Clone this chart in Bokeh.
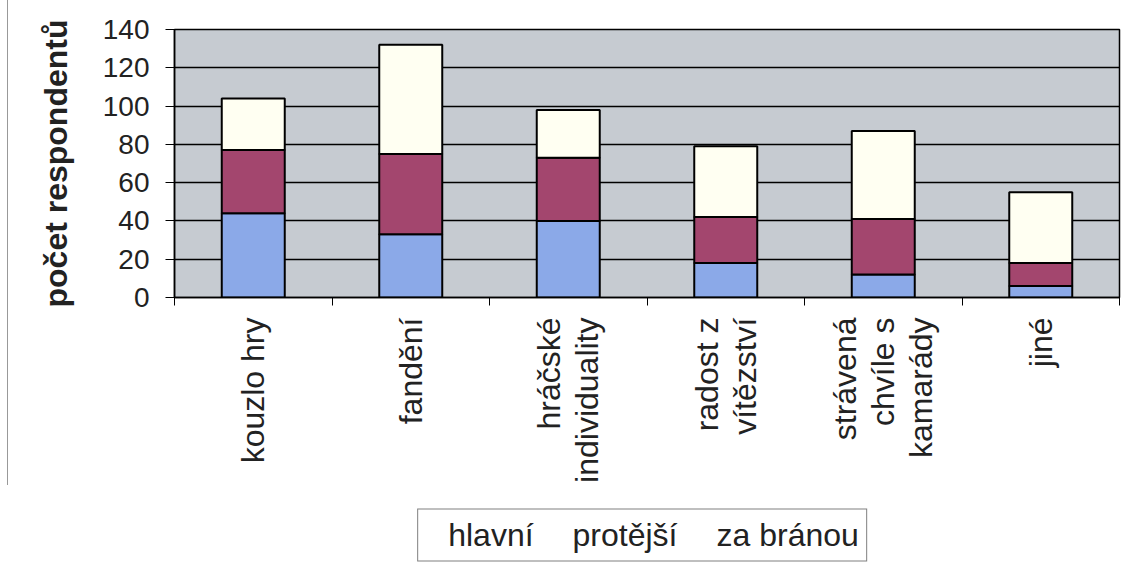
import math
from bokeh.plotting import figure
from bokeh.layouts import column
from bokeh.models import (ColumnDataSource, Range1d, FixedTicker,
                          Legend, LegendItem, LinearAxis)
from bokeh.embed import file_html
from bokeh.resources import INLINE

categories = ["kouzlo hry", "fandění", "hráčské\nindividuality", "radost z\nvítězství",
              "strávená\nchvíle s\nkamarády", "jiné"]
hlavni = [44, 33, 40, 18, 12, 6]
protejsi = [33, 42, 33, 24, 29, 12]
za_branou = [27, 57, 25, 37, 46, 37]
series = ["hlavní", "protější", "za bránou"]
colors = ["#8BA9E8", "#A3466E", "#FFFFF2"]
y_ticks = [0, 20, 40, 60, 80, 100, 120, 140]

FONT = "Liberation Sans"

n = len(categories)
centers = [i + 0.5 for i in range(n)]

# one tick per text line of each category label (lines side by side, rotated)
LINE_PITCH = 0.24
line_ticks = []
line_text = {}
for i, cat in enumerate(categories):
    lines = cat.split("\n")
    k = len(lines)
    for j, line in enumerate(lines):
        pos = round(centers[i] + (j - (k - 1) / 2) * LINE_PITCH, 4)
        line_ticks.append(pos)
        line_text[pos] = line

source = ColumnDataSource(data={"x": centers, "hlavní": hlavni,
                                "protější": protejsi, "za bránou": za_branou})

p = figure(x_range=Range1d(0, n), y_range=Range1d(0, 140),
           frame_width=944, frame_height=268, output_backend="svg", toolbar_location=None,
           x_axis_location=None, y_axis_location="left",
           min_border_left=166, min_border_right=7, min_border_top=29, min_border_bottom=0)

p.vbar_stack(series, x="x", width=0.4, source=source, color=colors,
             line_color="black", line_width=2)

p.background_fill_color = "#C6CBD1"
p.border_fill_color = "white"
p.outline_line_color = "black"
p.outline_line_width = 1.5

p.xgrid.grid_line_color = None
p.ygrid.grid_line_color = "black"
p.ygrid.grid_line_width = 1.3
p.ygrid.ticker = FixedTicker(ticks=y_ticks)

ya = p.yaxis[0]
ya.ticker = FixedTicker(ticks=y_ticks)
ya.axis_label = "počet respondentů"
ya.axis_label_text_font = FONT
ya.axis_label_text_font_style = "bold"
ya.axis_label_text_font_size = "32px"
ya.axis_label_text_color = "#222222"
ya.axis_label_standoff = 26
ya.major_label_text_font = FONT
ya.major_label_text_font_size = "28px"
ya.major_label_text_color = "#222222"
ya.major_label_standoff = 16
ya.major_tick_out = 9
ya.major_tick_in = 0
ya.major_tick_line_color = "black"
ya.minor_tick_line_color = None
ya.axis_line_color = "black"
ya.axis_line_width = 1.5

tick_axis = LinearAxis(ticker=FixedTicker(ticks=list(range(n + 1))),
                       major_label_text_font_size="1px", major_label_text_alpha=0,
                       major_label_standoff=0,
                       major_tick_out=8, major_tick_in=0, minor_tick_line_color=None,
                       axis_line_color="black", axis_line_width=1.5,
                       major_tick_line_color="black")
p.add_layout(tick_axis, "below")

cat_axis = LinearAxis(ticker=FixedTicker(ticks=line_ticks),
                      major_label_overrides=line_text,
                      axis_line_color=None, major_tick_line_color=None,
                      minor_tick_line_color=None,
                      major_label_orientation=math.pi / 2,
                      major_label_text_font=FONT,
                      major_label_text_font_size="32px",
                      major_label_text_color="#222222",
                      major_label_standoff=6)
p.add_layout(cat_axis, "below")

p.styles = {"border-left": "1px solid #999999", "margin-left": "7px"}

# legend figure, placed over the empty lower part of the page
legend_src = ColumnDataSource(data={"x": [], "hlavní": [], "protější": [], "za bránou": []})
pl = figure(width=1125, height=56, x_range=Range1d(0, 1), y_range=Range1d(0, 1),
            output_backend="svg", toolbar_location=None,
            x_axis_location=None, y_axis_location=None,
            min_border_left=165, min_border_right=0, min_border_top=0, min_border_bottom=0)
pl.xgrid.grid_line_color = None
pl.ygrid.grid_line_color = None
pl.outline_line_color = None
pl.background_fill_alpha = 0
pl.border_fill_alpha = 0
leg_renderers = pl.vbar_stack(series, x="x", width=0.4, source=legend_src, color=colors,
                              line_color="black", line_width=2)

legend = Legend(items=[LegendItem(label=s, renderers=[r]) for s, r in zip(series, leg_renderers)],
                orientation="horizontal", location="center",
                label_text_font=FONT, label_text_font_size="32px", label_text_color="#222222",
                glyph_width=18, glyph_height=18, label_standoff=5, spacing=16,
                padding=7, margin=0,
                border_line_color="black", border_line_width=1,
                background_fill_color="white", background_fill_alpha=1)
pl.add_layout(legend, "center")
pl.styles = {"position": "absolute", "top": "507px", "left": "0px"}

layout = column(p, pl)

open("out.html", "w").write(file_html(layout, INLINE))
